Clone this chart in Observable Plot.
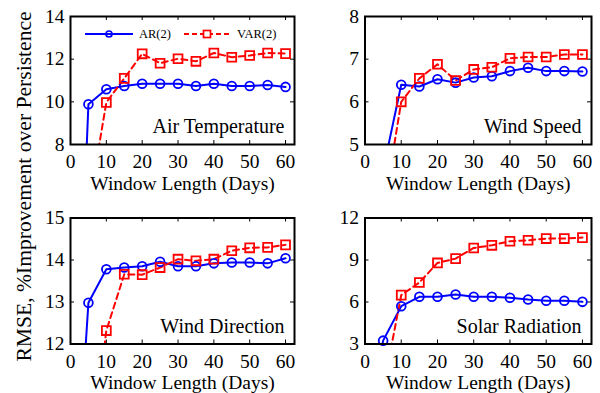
<!DOCTYPE html>
<html><head><meta charset="utf-8">
<script src="https://cdn.jsdelivr.net/npm/d3@7"></script>
<script src="https://cdn.jsdelivr.net/npm/@observablehq/plot@0.6"></script>
<style>
body{margin:0;background:#fff;}
#wrap{position:relative;width:600px;height:393px;font-family:"Liberation Serif","Times New Roman",Times,"DejaVu Serif",serif;overflow:hidden;}
.panel{position:absolute;}
#overlay{position:absolute;left:0;top:0;pointer-events:none;}
</style></head><body>
<div id="wrap"></div>
<script>
// ---- data ----
const arWindows = [1, 5, 10, 15, 20, 25, 30, 35, 40, 45, 50, 55, 60];
const varWindows = [5, 10, 15, 20, 25, 30, 35, 40, 45, 50, 55, 60];
const xTicks = [0, 10, 20, 30, 40, 50, 60];
const seriesNames = ["AR(2)", "VAR(2)"];
const panelNames = ["Air Temperature", "Wind Speed", "Wind Direction", "Solar Radiation"];
const xTitle = "Window Length (Days)";
const yTitle = "RMSE, %Improvement over Persistence";

const arAirTemp = [-6.6, 9.89, 10.59, 10.74, 10.85, 10.85, 10.85, 10.74, 10.85, 10.74, 10.74, 10.79, 10.70];
const varAirTemp = [5.0, 9.97, 11.10, 12.25, 11.81, 12.02, 11.90, 12.29, 12.09, 12.17, 12.29, 12.26];
const arWindSpeed = [2.0, 4.4, 6.40, 6.36, 6.53, 6.45, 6.57, 6.60, 6.72, 6.80, 6.72, 6.72, 6.71];
const varWindSpeed = [3.4, 6.00, 6.55, 6.88, 6.50, 6.76, 6.81, 7.02, 7.05, 7.05, 7.11, 7.11];
const arWindDir = [7.7, 12.98, 13.78, 13.82, 13.85, 13.96, 13.85, 13.85, 13.92, 13.94, 13.94, 13.92, 14.04];
const varWindDir = [8.85, 12.32, 13.66, 13.65, 13.82, 14.02, 13.98, 14.02, 14.22, 14.29, 14.30, 14.36];
const arSolar = [-2.0, 3.24, 5.70, 6.37, 6.37, 6.54, 6.37, 6.37, 6.30, 6.18, 6.09, 6.09, 6.01];
const varSolar = [-0.2, 6.49, 7.39, 8.79, 9.10, 9.86, 10.05, 10.34, 10.41, 10.53, 10.53, 10.60];

const yTicksAirTemp = [8, 10, 12, 14];
const yTicksWindSpeed = [5, 6, 7, 8];
const yTicksWindDir = [12, 13, 14, 15];
const yTicksSolar = [3, 6, 9, 12];

// ---- drawing ----
const BLUE = "#0000ff", RED = "#ff0000";
const FONT = "'Liberation Serif', 'Times New Roman', Times, 'DejaVu Serif', serif";
const fmt = d3.format("d");

function makePanel(cfg) {
  const {ar, vr, yTicks, name, width, height, ml, mr, mt, mb} = cfg;
  const yDomain = [yTicks[0], yTicks[yTicks.length - 1]];
  const innerW = width - ml - mr, innerH = height - mt - mb;
  const arData = arWindows.map((w, i) => ({w, v: ar[i]}));
  const varData = varWindows.map((w, i) => ({w, v: vr[i]}));
  const inRange = d => d.v >= yDomain[0] && d.v <= yDomain[1];
  return Plot.plot({
    width, height,
    marginLeft: ml, marginRight: mr, marginTop: mt, marginBottom: mb,
    x: {domain: [0, 62.5]},
    y: {domain: yDomain},
    style: {fontFamily: FONT, fontSize: "19.5px", background: "transparent", color: "black", overflow: "visible"},
    marks: [
      Plot.tickX(xTicks, {x: d => d, insetTop: innerH - 4, stroke: "black"}),
      Plot.tickX(xTicks, {x: d => d, insetBottom: innerH - 4, stroke: "black"}),
      Plot.tickY(yTicks, {y: d => d, insetLeft: innerW - 4, stroke: "black"}),
      Plot.tickY(yTicks, {y: d => d, insetRight: innerW - 4, stroke: "black"}),
      Plot.line(arData, {x: "w", y: "v", stroke: BLUE, strokeWidth: 2, clip: true}),
      Plot.line(varData, {x: "w", y: "v", stroke: RED, strokeWidth: 2, strokeDasharray: "6,4", clip: true}),
      Plot.dot(arData.filter(inRange), {x: "w", y: "v", r: 4.4, stroke: BLUE, strokeWidth: 1.8, fill: "none"}),
      Plot.dot(varData.filter(inRange), {x: "w", y: "v", symbol: "square", r: 5, stroke: RED, strokeWidth: 1.8, fill: "none"}),
      Plot.axisX({ticks: xTicks, tickFormat: fmt, tickSize: 0, tickPadding: 10, label: null, fontSize: 19.5}),
      Plot.axisY({ticks: yTicks, tickFormat: fmt, tickSize: 0, tickPadding: 6, label: null, fontSize: 19.5}),
      Plot.text([name], {text: d => d, frameAnchor: "bottom-right", textAnchor: "end", lineAnchor: "bottom", dx: -10, dy: -11.5, fontSize: 20, fill: "black"}),
      Plot.text([xTitle], {text: d => d, frameAnchor: "bottom", lineAnchor: "middle", dy: 39, fontSize: 19.5, fill: "black"}),
      Plot.frame({stroke: "black", strokeWidth: 2})
    ]
  });
}

const wrap = document.getElementById("wrap");
const layouts = [
  {ar: arAirTemp, vr: varAirTemp, yTicks: yTicksAirTemp, name: panelNames[0], left: 0, top: 0, width: 300, height: 195, ml: 70, mr: 6, mt: 16, mb: 51},
  {ar: arWindSpeed, vr: varWindSpeed, yTicks: yTicksWindSpeed, name: panelNames[1], left: 300, top: 0, width: 300, height: 195, ml: 64.5, mr: 9, mt: 16, mb: 51},
  {ar: arWindDir, vr: varWindDir, yTicks: yTicksWindDir, name: panelNames[2], left: 0, top: 195, width: 300, height: 198, ml: 70, mr: 6, mt: 22.5, mb: 49.5},
  {ar: arSolar, vr: varSolar, yTicks: yTicksSolar, name: panelNames[3], left: 300, top: 195, width: 300, height: 198, ml: 64.5, mr: 9, mt: 22.5, mb: 49.5}
];
for (const cfg of layouts) {
  const el = makePanel(cfg);
  el.classList.add("panel");
  el.style.left = cfg.left + "px";
  el.style.top = cfg.top + "px";
  wrap.appendChild(el);
}

// overlay: y title and legend
const ov = d3.create("svg").attr("id", "overlay").attr("width", 600).attr("height", 393)
  .style("font-family", FONT);
ov.append("text").attr("transform", "translate(24,186.5) rotate(-90)")
  .attr("text-anchor", "middle").attr("dy", "0.32em").attr("font-size", 21.6).attr("fill", "black").text(yTitle);
const lg = ov.append("g");
lg.append("line").attr("x1", 85).attr("x2", 133).attr("y1", 34).attr("y2", 34).attr("stroke", BLUE).attr("stroke-width", 2);
lg.append("circle").attr("cx", 109).attr("cy", 34).attr("r", 3).attr("fill", "none").attr("stroke", BLUE).attr("stroke-width", 1.7);
lg.append("text").attr("x", 139).attr("y", 38).attr("font-size", 12.5).attr("fill", "black").text(seriesNames[0]);
lg.append("line").attr("x1", 184).attr("x2", 229).attr("y1", 34).attr("y2", 34).attr("stroke", RED).attr("stroke-width", 2).attr("stroke-dasharray", "5,3");
lg.append("rect").attr("x", 203.5).attr("y", 30.5).attr("width", 7).attr("height", 7).attr("fill", "white").attr("stroke", RED).attr("stroke-width", 1.7);
lg.append("text").attr("x", 237).attr("y", 38).attr("font-size", 12.5).attr("fill", "black").text(seriesNames[1]);
wrap.appendChild(ov.node());
</script>
</body></html>
